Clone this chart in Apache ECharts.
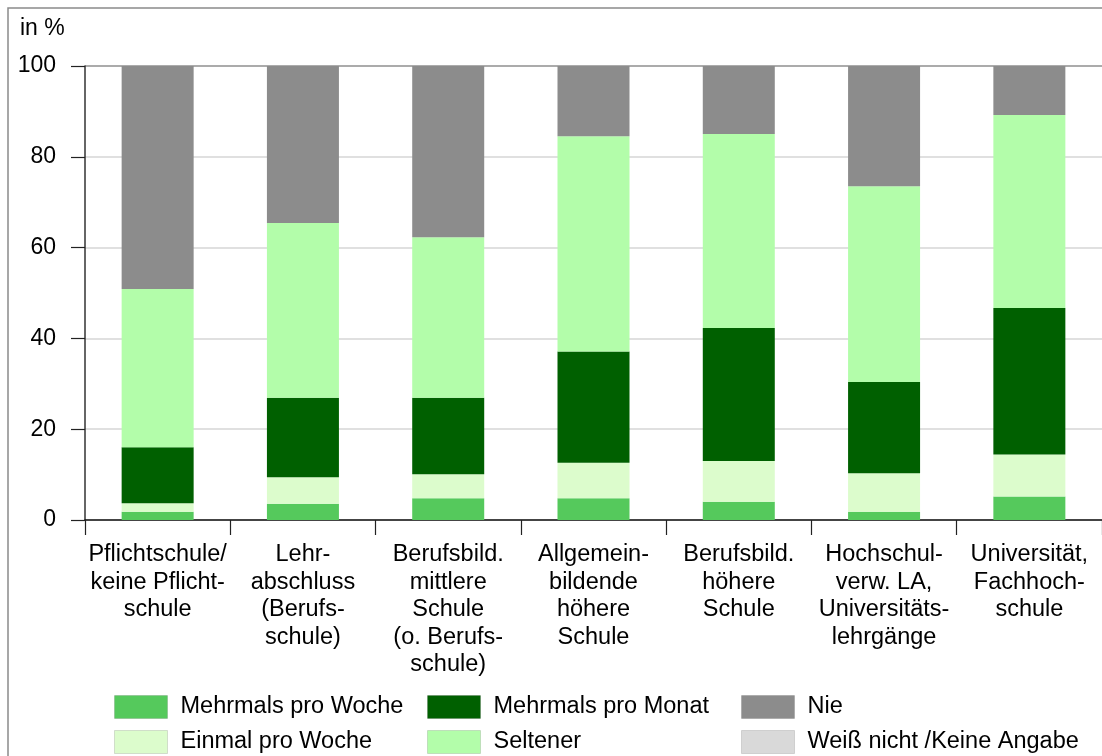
<!DOCTYPE html>
<html>
<head>
<meta charset="utf-8">
<script src="https://cdn.jsdelivr.net/npm/echarts@6/dist/echarts.min.js"></script>
<style>
html,body{margin:0;padding:0;background:#fff;}
#chart{width:1102px;height:756px;}
</style>
</head>
<body>
<div id="chart"></div>
<script>
var categories = [
  'Pflichtschule/\nkeine Pflicht-\nschule',
  'Lehr-\nabschluss\n(Berufs-\nschule)',
  'Berufsbild.\nmittlere\nSchule\n(o. Berufs-\nschule)',
  'Allgemein-\nbildende\nhöhere\nSchule',
  'Berufsbild.\nhöhere\nSchule',
  'Hochschul-\nverw. LA,\nUniversitäts-\nlehrgänge',
  'Universität,\nFachhoch-\nschule'
];
var seriesNames = ['Mehrmals pro Woche','Einmal pro Woche','Mehrmals pro Monat','Seltener','Nie','Weiß nicht /Keine Angabe'];
var mehrmalsProWoche = [1.8, 3.6, 4.8, 4.8, 4.0, 1.8, 5.2];
var einmalProWoche   = [1.9, 5.8, 5.3, 7.8, 9.0, 8.5, 9.2];
var mehrmalsProMonat = [12.3, 17.5, 16.8, 24.5, 29.3, 20.1, 32.3];
var seltener         = [34.9, 38.5, 35.4, 47.4, 42.7, 43.1, 42.5];
var nie              = [49.1, 34.6, 37.7, 15.5, 15.0, 26.5, 10.8];
var weissNicht       = [0, 0, 0, 0, 0, 0, 0];
var yTicks = [0, 20, 40, 60, 80, 100];

var colors = ['#55c95c','#dcfccc','#006000','#b3fdaa','#8c8c8c','#d9d9d9'];
var values = [mehrmalsProWoche, einmalProWoche, mehrmalsProMonat, seltener, nie, weissNicht];

var FONT = '"Liberation Sans", Arial, sans-serif';
var chart = echarts.init(document.getElementById('chart'), null, {renderer:'canvas'});

var series = seriesNames.map(function(n, i){
  return {
    name: n, type: 'bar', stack: 'total', barWidth: 72,
    itemStyle: {color: colors[i]},
    data: values[i]
  };
});

function legend(left, items){
  return {
    left: left, top: 695, orient: 'vertical', padding: 0, height: 60,
    itemWidth: 53, itemHeight: 23, itemGap: 11,
    icon: 'rect', selectedMode: false,
    itemStyle: {borderColor: 'rgba(0,0,0,0.12)', borderWidth: 1},
    textStyle: {fontFamily: FONT, fontSize: 23.5, color: '#000', padding: [0,0,0,8]},
    data: items
  };
}

chart.setOption({
  animation: false,
  backgroundColor: '#fff',
  textStyle: {fontFamily: FONT},
  graphic: [
    {type:'rect', shape:{x:8, y:8, width:1120, height:780}, style:{fill:'none', stroke:'#8a8a8a', lineWidth:1.5}, z: 100},
    {type:'text', left: 20, top: 17, style:{text:'in %', font:'23px ' + FONT, fill:'#000'}}
  ],
  legend: [
    legend(114, [seriesNames[0], seriesNames[1]]),
    legend(427, [seriesNames[2], seriesNames[3]]),
    legend(741, [seriesNames[4], seriesNames[5]])
  ],
  grid: {left: 85, top: 66, width: 1022, height: 454, containLabel: false},
  xAxis: {
    type: 'category', data: categories, boundaryGap: true,
    axisLine: {lineStyle: {color: '#111', width: 1.5}},
    axisTick: {show: true, length: 15, lineStyle: {color: '#222', width: 1.2}},
    axisLabel: {interval: 0, margin: 21, fontFamily: FONT, fontSize: 23.5, color: '#000', lineHeight: 27.5, align: 'center'}
  },
  yAxis: {
    type: 'value', min: 0, max: 100, interval: 20,
    axisLine: {show: true, lineStyle: {color: '#333', width: 1.5}},
    axisTick: {show: true, length: 14, lineStyle: {color: '#222', width: 1.2}},
    axisLabel: {margin: 29, fontFamily: FONT, fontSize: 23, color: '#000',
      formatter: function(v){ return yTicks.indexOf(v) >= 0 ? String(v) : ''; }},
    splitLine: {show: true, lineStyle: {color: ['#d6d6d6','#d6d6d6','#d6d6d6','#d6d6d6','#d6d6d6','#8f8f8f'], width: 1.5}}
  },
  series: series
});
</script>
</body>
</html>
